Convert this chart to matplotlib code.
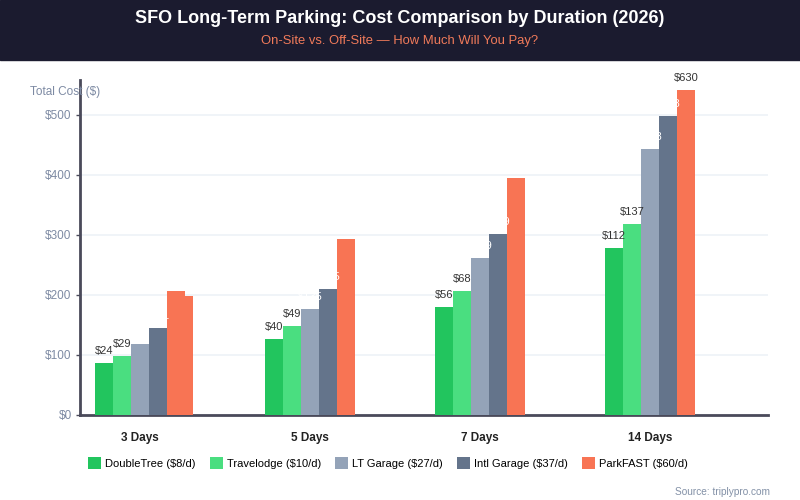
import matplotlib.pyplot as plt
import numpy as np

plt.rcParams['font.family'] = ['Liberation Sans', 'DejaVu Sans']

#%% Dados

duracoes = ["3 Days", "5 Days", "7 Days", "14 Days"]
series = ["DoubleTree ($8/d)", "Travelodge ($10/d)", "LT Garage ($27/d)",
          "Intl Garage ($37/d)", "ParkFAST ($60/d)"]
cores = ['#22c55e', '#4ade80', '#94a3b8', '#64748b', '#f87454']

# alturas das barras
doubletree = [87, 127, 180, 278]
travelodge = [98, 148, 207, 318]
lt_garage = [118, 177, 262, 443]
intl_garage = [145, 210, 302, 498]
parkfast = [207, 293, 395, 542]
parkfast_extra = [198]  # sobra da barra laranja no grupo de 3 dias

# rótulos das barras
rot_doubletree = ["$24", "$40", "$56", "$112"]
rot_travelodge = ["$29", "$49", "$68", "$137"]
rot_lt = ["$81", "$135", "$189", "$378"]
rot_intl = ["$111", "$185", "$259", "$518"]
rot_parkfast = ["$180", "$300", "$420", "$630"]

valores = [doubletree, travelodge, lt_garage, intl_garage, parkfast]
rotulos = [rot_doubletree, rot_travelodge, rot_lt, rot_intl, rot_parkfast]
cor_rotulos = [['#333333'] * 4, ['#333333'] * 4, ['white'] * 4, ['white'] * 4,
               ['white', 'white', 'white', '#333333']]

#%% Gráfico

fig = plt.figure(figsize=(8, 5), dpi=100)
ax = fig.add_axes([0.1, 0.17, 0.86, 0.67])

# faixa do título
fig.patches.append(plt.Rectangle((0, 0.88), 1, 0.12, transform=fig.transFigure,
                                 color='#1b1b2f', zorder=0))
fig.text(0.5, 0.963, "SFO Long-Term Parking: Cost Comparison by Duration (2026)",
         ha='center', va='center', color='white', fontsize=13, fontweight='bold')
fig.text(0.5, 0.918, "On-Site vs. Off-Site \u2014 How Much Will You Pay?",
         ha='center', va='center', color='#f07a5a', fontsize=9.4)

x_pos = np.arange(len(duracoes))
largura = 0.106

for i in range(len(series)):
    xs = x_pos + (i - 2) * largura
    ax.bar(xs, valores[i], largura, color=cores[i], label=series[i], zorder=3)
    for j in range(len(duracoes)):
        ax.annotate(rotulos[i][j], (xs[j], valores[i][j]), xytext=(0, 5),
                    textcoords='offset points', ha='center', va='bottom',
                    fontsize=8, color=cor_rotulos[i][j], zorder=4)

ax.bar(x_pos[0] + 2.5 * largura + largura * 0.22, parkfast_extra, largura * 0.45,
       color=cores[4], zorder=3)

ax.set_xlim(-0.353, 3.694)
ax.set_ylim(0, 558)
ax.set_yticks([0, 100, 200, 300, 400, 500])
ax.set_yticklabels(["$0", "$100", "$200", "$300", "$400", "$500"])
ax.set_xticks(x_pos)
ax.set_xticklabels(duracoes, fontweight='bold', color='#222222', fontsize=8.5)
ax.tick_params(axis='x', length=0, pad=12)
ax.tick_params(axis='y', length=3, width=1, colors='#4a4a5a', labelcolor='#7d8aa3',
               labelsize=8.5, pad=3)
ax.grid(axis='y', color='#eef2f7', linewidth=1.2, zorder=0)
for lado in ['top', 'right']:
    ax.spines[lado].set_visible(False)
for lado in ['left', 'bottom']:
    ax.spines[lado].set_color('#4a4a5a')
    ax.spines[lado].set_linewidth(2)

fig.text(0.038, 0.816, "Total Cost ($)", color='#7d8aa3', fontsize=8.5,
         ha='left', va='center')

ax.legend(loc='center', bbox_to_anchor=(0.485, 0.074), bbox_transform=fig.transFigure,
          ncol=5, frameon=False, fontsize=8, handlelength=1.2, handleheight=1.2,
          handletextpad=0.35, columnspacing=1.25)

fig.text(0.963, 0.006, "Source: triplypro.com", color='#8391a7', fontsize=7.3,
         ha='right', va='bottom')

fig.savefig("out.png", dpi=100)
